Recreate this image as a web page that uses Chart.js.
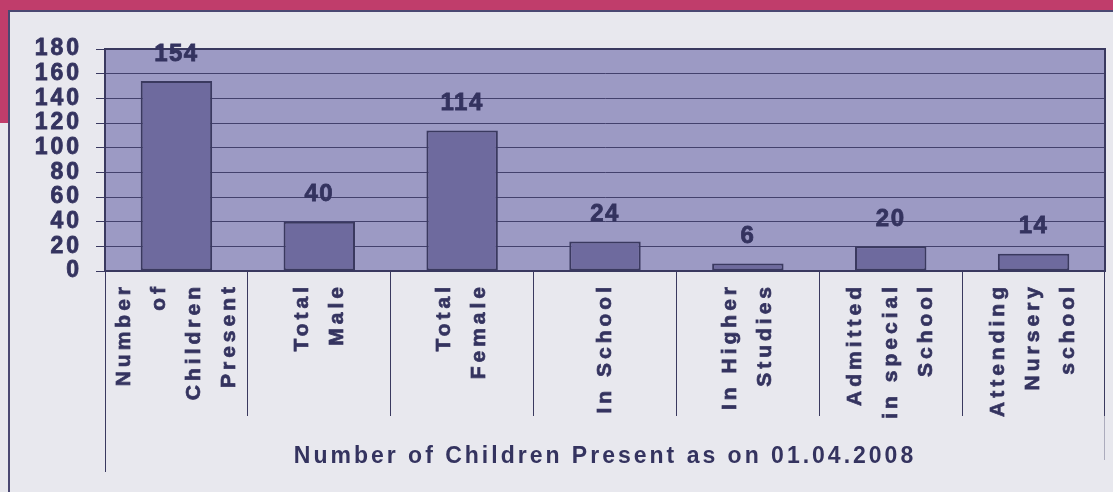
<!DOCTYPE html>
<html>
<head>
<meta charset="utf-8">
<script src="https://cdn.jsdelivr.net/npm/chart.js@4/dist/chart.umd.min.js"></script>
<style>
    html, body { margin: 0; padding: 0; }
    body { width: 1113px; height: 492px; background: #e8e8ee; position: relative; overflow: hidden; }
    .band-top { position: absolute; left: 0; top: 0; width: 1113px; height: 10px; background: #c03d6b; }
    .band-left { position: absolute; left: 0; top: 0; width: 8px; height: 123px; background: #c03d6b; }
    .edge-top { position: absolute; left: 8px; top: 10px; width: 1105px; height: 2px; background: #4a4872; }
    .edge-left { position: absolute; left: 8px; top: 10px; width: 2px; height: 482px; background: #4a4872; }
    #wrap { position: absolute; left: 0; top: 0; width: 1113px; height: 492px; }
</style>
</head>
<body>
<div class="band-top"></div>
<div class="band-left"></div>
<div class="edge-top"></div>
<div class="edge-left"></div>
<div id="wrap"><canvas id="childrenChart" width="1113" height="492"></canvas></div>
<script>
// Data
const categories = [
    ['Number', 'of', 'Children', 'Present'],
    ['Total', 'Male'],
    ['Total', 'Female'],
    ['In School'],
    ['In Higher', 'Studies'],
    ['Admitted', 'in special', 'School'],
    ['Attending', 'Nursery', 'school']
];
const childCounts = [154, 40, 114, 24, 6, 20, 14];
const yMin = 0;
const yMax = 180;
const yStep = 20;
const axisTitle = 'Number of Children Present as on 01.04.2008';

// Colours
const textColor = '#34335f';
const darkLine = '#3a395f';
const plotFill = '#9c9ac4';
const barFill = '#6e6a9e';
const fontFamily = '"Liberation Sans", Arial, sans-serif';

// plot background, frame, value labels and label tweaks
const decorPlugin = {
    id: 'decor',
    beforeDraw(chart) {
        const { ctx, chartArea: a } = chart;
        ctx.save();
        ctx.fillStyle = plotFill;
        ctx.fillRect(a.left, a.top, a.right - a.left, a.bottom - a.top);
        ctx.restore();

        // centre the multi-line rotated category labels on their ticks
        chart.scales.x.getLabelItems().forEach(item => {
            if (item.centred) return;
            const n = Array.isArray(item.label) ? item.label.length : 1;
            item.textOffset -= (n - 1) * item.font.lineHeight / 2;
            item.centred = true;
        });

        // spacing for axis title and y tick labels
        ctx.letterSpacing = '3px';
    },
    beforeDatasetsDraw(chart) {
        const { ctx, chartArea: a } = chart;
        ctx.save();
        ctx.letterSpacing = '0px';
        ctx.strokeStyle = darkLine;
        ctx.lineWidth = 2;
        ctx.beginPath();
        ctx.moveTo(a.left, a.top);
        ctx.lineTo(a.right, a.top);
        ctx.lineTo(a.right, a.bottom);
        ctx.stroke();
        ctx.restore();
    },
    afterDatasetsDraw(chart) {
        const { ctx } = chart;
        const meta = chart.getDatasetMeta(0);
        ctx.save();
        ctx.letterSpacing = '1.5px';
        ctx.font = 'bold 24px ' + fontFamily;
        ctx.fillStyle = textColor;
        ctx.strokeStyle = textColor;
        ctx.lineWidth = 0.8;
        ctx.textAlign = 'center';
        ctx.textBaseline = 'middle';
        meta.data.forEach((bar, i) => {
            ctx.fillText(String(childCounts[i]), bar.x, bar.y - 27);
            ctx.strokeText(String(childCounts[i]), bar.x, bar.y - 27);
        });
        ctx.restore();

        // category labels are drawn after this, spaced out
        ctx.letterSpacing = '4px';
    },
    afterDraw(chart) {
        const { ctx, chartArea: a } = chart;
        const xs = chart.scales.x;
        ctx.letterSpacing = '0px';
        ctx.save();
        ctx.strokeStyle = darkLine;
        ctx.lineWidth = 1;
        ctx.beginPath();
        ctx.moveTo(a.left + 0.5, a.bottom);
        ctx.lineTo(a.left + 0.5, xs.bottom - 20);
        ctx.stroke();
        ctx.strokeStyle = 'rgba(61, 60, 98, 0.35)';
        ctx.beginPath();
        ctx.moveTo(a.right - 0.5, a.bottom);
        ctx.lineTo(a.right - 0.5, xs.bottom - 32);
        ctx.stroke();
        ctx.restore();
    }
};

const ctx = document.getElementById('childrenChart').getContext('2d');

new Chart(ctx, {
    type: 'bar',
    data: {
        labels: categories,
        datasets: [{
            data: childCounts,
            backgroundColor: barFill,
            borderColor: darkLine,
            borderWidth: 2,
            borderSkipped: false,
            categoryPercentage: 1,
            barPercentage: 0.5
        }]
    },
    options: {
        responsive: false,
        animation: false,
        layout: {
            padding: { left: 0, right: 8, top: 49, bottom: 0 }
        },
        plugins: {
            legend: { display: false },
            tooltip: { enabled: false }
        },
        scales: {
            x: {
                grid: {
                    drawOnChartArea: false,
                    drawTicks: true,
                    tickLength: 145,
                    tickColor: darkLine,
                    tickWidth: 1
                },
                border: { color: darkLine, width: 2 },
                ticks: {
                    z: 1,
                    autoSkip: false,
                    minRotation: 90,
                    maxRotation: 90,
                    padding: -133,
                    color: textColor,
                    textStrokeColor: textColor,
                    textStrokeWidth: 0.7,
                    font: { family: fontFamily, size: 21, weight: 'bold', lineHeight: 1.67 }
                },
                title: {
                    display: true,
                    text: axisTitle,
                    color: textColor,
                    font: { family: fontFamily, size: 23, weight: 'bold' },
                    padding: { top: 0, bottom: 22 }
                },
                afterFit(scale) {
                    scale.height = 221;
                }
            },
            y: {
                min: yMin,
                max: yMax,
                grid: {
                    color: 'rgba(45, 43, 88, 0.8)',
                    lineWidth: 1,
                    tickLength: 9,
                    tickColor: darkLine
                },
                border: { color: darkLine, width: 2 },
                ticks: {
                    stepSize: yStep,
                    autoSkip: false,
                    padding: 14,
                    color: textColor,
                    textStrokeColor: textColor,
                    textStrokeWidth: 0.8,
                    font: { family: fontFamily, size: 23, weight: 'bold', lineHeight: 1 }
                },
                afterFit(scale) {
                    scale.width = 105;
                }
            }
        }
    },
    plugins: [decorPlugin]
});
</script>
</body>
</html>
